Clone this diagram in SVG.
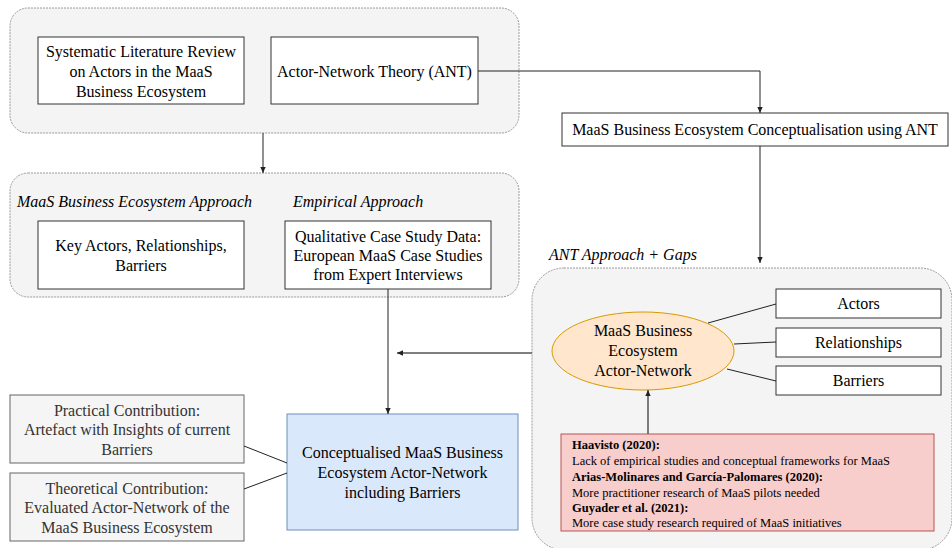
<svg xmlns="http://www.w3.org/2000/svg" width="952" height="548" viewBox="0 0 952 548" font-family="'Liberation Serif', 'Times New Roman', serif">
<style>
text{font-family:"Liberation Serif","Times New Roman",serif;font-size:16px;fill:#000;}
.c{text-anchor:middle;}
.it{font-style:italic;}
.cont{fill:#f4f4f4;stroke:#9a9a9a;stroke-width:1;stroke-dasharray:2 1;}
.box{fill:#fff;stroke:#333;stroke-width:1;}
.gbox{fill:#f5f5f5;stroke:#666;stroke-width:1;}
.gt{fill:#333;}
.edge{fill:none;stroke:#222;stroke-width:1;}
.edge2{fill:none;stroke:#555;stroke-width:1.5;}
.sm{font-size:12.5px;}
.b{font-weight:bold;}
</style>
<defs>
<marker id="arr" viewBox="0 0 10 10" refX="9" refY="5" markerWidth="7" markerHeight="7" orient="auto" markerUnits="userSpaceOnUse">
<path d="M0,1 L9,5 L0,9 Z" fill="#222"/>
</marker>
</defs>

<g id="container-top">
<rect class="cont" x="10" y="8" width="509" height="125" rx="18"/>
</g>
<g id="slr">
<rect class="box" x="38" y="37" width="206" height="67"/>
<text class="c" x="141" y="57">Systematic Literature Review</text>
<text class="c" x="141" y="77">on Actors in the MaaS</text>
<text class="c" x="141" y="97">Business Ecosystem</text>
</g>
<g id="ant">
<rect class="box" x="271" y="37" width="207" height="67"/>
<text class="c" x="374.5" y="77">Actor-Network Theory (ANT)</text>
</g>
<g id="concept">
<rect class="box" x="562" y="113" width="386" height="33"/>
<text class="c" x="755" y="135">MaaS Business Ecosystem Conceptualisation using ANT</text>
</g>

<g id="container-mid">
<rect class="cont" x="10" y="173" width="509" height="124" rx="18"/>
<text class="it" x="17" y="207">MaaS Business Ecosystem Approach</text>
<text class="it" x="293" y="207">Empirical Approach</text>
</g>
<g id="keyactors">
<rect class="box" x="38" y="221" width="206" height="68"/>
<text class="c" x="141" y="251">Key Actors, Relationships,</text>
<text class="c" x="141" y="271">Barriers</text>
</g>
<g id="qualitative">
<rect class="box" x="285" y="221" width="206" height="68"/>
<text class="c" x="388" y="242">Qualitative Case Study Data:</text>
<text class="c" x="388" y="261">European MaaS Case Studies</text>
<text class="c" x="388" y="280">from Expert Interviews</text>
</g>

<g id="container-ant">
<rect class="cont" x="532" y="268" width="420" height="282" rx="32"/>
<text class="it" x="549" y="260">ANT Approach + Gaps</text>
</g>
<g id="network">
<ellipse cx="643" cy="351" rx="91" ry="39" fill="#ffe6cc" stroke="#d79b00" stroke-width="1"/>
<text class="c" x="643" y="336">MaaS Business</text>
<text class="c" x="643" y="356">Ecosystem</text>
<text class="c" x="643" y="376">Actor-Network</text>
</g>
<g id="actors">
<rect class="box" x="776" y="289" width="165" height="29"/>
<text class="c" x="858.5" y="309">Actors</text>
</g>
<g id="relationships">
<rect class="box" x="776" y="328" width="165" height="29"/>
<text class="c" x="858.5" y="348">Relationships</text>
</g>
<g id="barriers">
<rect class="box" x="776" y="366" width="165" height="29"/>
<text class="c" x="858.5" y="386">Barriers</text>
</g>
<g id="gaps">
<rect x="561" y="434" width="373" height="97" fill="#f8cecc" stroke="#b85450" stroke-width="1"/>
<text class="sm b" x="572" y="449">Haavisto (2020):</text>
<text class="sm" x="572" y="465">Lack of empirical studies and conceptual frameworks for MaaS</text>
<text class="sm b" x="572" y="481">Arias-Molinares and García-Palomares (2020):</text>
<text class="sm" x="572" y="497">More practitioner research of MaaS pilots needed</text>
<text class="sm b" x="572" y="512">Guyader et al. (2021):</text>
<text class="sm" x="572" y="527">More case study research required of MaaS initiatives</text>
</g>

<g id="result">
<rect x="287" y="414" width="231" height="116" fill="#dae8fc" stroke="#6c8ebf" stroke-width="1"/>
<text class="c" x="402.5" y="458">Conceptualised MaaS Business</text>
<text class="c" x="402.5" y="478">Ecosystem Actor-Network</text>
<text class="c" x="402.5" y="498">including Barriers</text>
</g>
<g id="practical">
<rect class="gbox" x="10" y="395" width="234" height="68"/>
<text class="c gt" x="127" y="416">Practical Contribution:</text>
<text class="c gt" x="127" y="435">Artefact with Insights of current</text>
<text class="c gt" x="127" y="455">Barriers</text>
</g>
<g id="theoretical">
<rect class="gbox" x="10" y="473" width="234" height="68"/>
<text class="c gt" x="127" y="494">Theoretical Contribution:</text>
<text class="c gt" x="127" y="513">Evaluated Actor-Network of the</text>
<text class="c gt" x="127" y="533">MaaS Business Ecosystem</text>
</g>

<g id="connectors">
<path class="edge" d="M478,71 H760 V113" marker-end="url(#arr)"/>
<path class="edge" d="M263,133 V173" marker-end="url(#arr)"/>
<path class="edge" d="M760,146 V263" marker-end="url(#arr)"/>
<path class="edge" d="M388,289 V414" marker-end="url(#arr)"/>
<path class="edge2" d="M532,353 H397" marker-end="url(#arr)"/>
<path class="edge2" d="M648,434 V390" marker-end="url(#arr)"/>
<path class="edge" d="M708,323 L776,304"/>
<path class="edge" d="M734,344 L776,342"/>
<path class="edge" d="M727,369 L776,381"/>
<path class="edge" d="M244,446 L287,463"/>
<path class="edge" d="M244,489 L287,473"/>
</g>
</svg>
